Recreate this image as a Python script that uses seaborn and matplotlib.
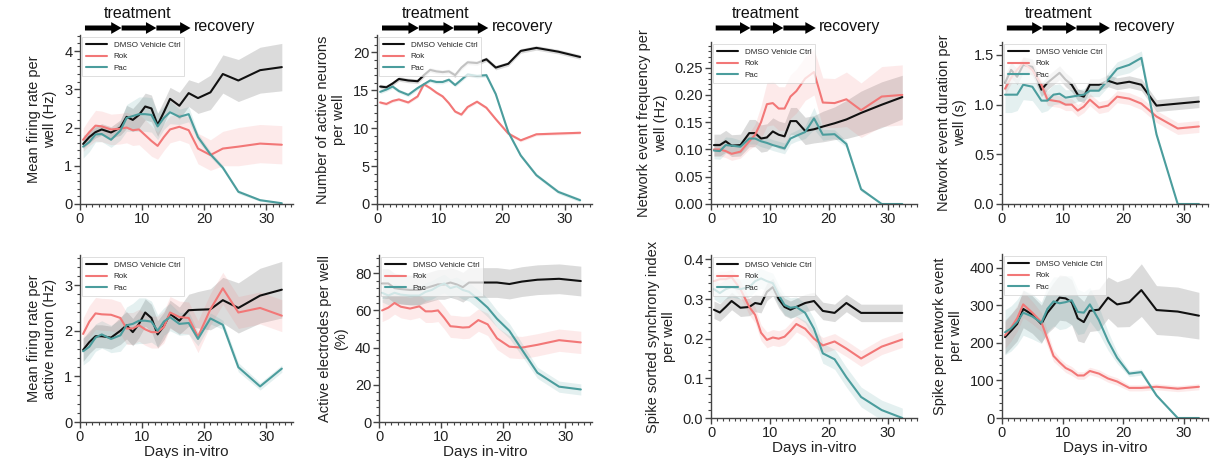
import numpy as np
import pandas as pd
import matplotlib
matplotlib.use("Agg")
import matplotlib.pyplot as plt
from matplotlib.ticker import AutoMinorLocator, MultipleLocator, FormatStrFormatter
from matplotlib.lines import Line2D
import matplotlib.transforms as mtransforms
import seaborn as sns

# ---------------- data ----------------
days = [0.5, 1.5, 2.5, 3.5, 5, 6.5, 7.5, 8.5, 9.5, 10.5, 11.5, 12.5, 13.5, 14.5,
        16, 17.5, 19, 21, 23, 25.5, 29, 32.5]
groups = ["DMSO Vehicle Ctrl", "Rok", "Pac"]
colors = ["#111111", "#f27777", "#4b9d9d"]
treatment_days = [0.8, 6.7, 12.3, 17.8]

# Mean firing rate per well (Hz)
mfr_ctrl = [1.57, 1.75, 1.88, 1.95, 1.87, 2.0, 2.28, 2.2, 2.33, 2.55, 2.5, 2.07, 2.4, 2.75, 2.57, 2.9, 2.77, 2.92, 3.4, 3.23, 3.5, 3.58]
mfr_ctrl_err = [0.12, 0.15, 0.15, 0.15, 0.15, 0.2, 0.3, 0.3, 0.35, 0.35, 0.35, 0.3, 0.3, 0.3, 0.35, 0.35, 0.4, 0.45, 0.5, 0.55, 0.6, 0.62]
mfr_rok = [1.68, 1.88, 2.05, 2.03, 1.95, 1.97, 2.0, 1.93, 1.95, 1.8, 1.65, 1.52, 1.75, 1.95, 2.02, 1.93, 1.45, 1.28, 1.45, 1.5, 1.58, 1.55]
mfr_rok_err = [0.3, 0.35, 0.4, 0.4, 0.4, 0.4, 0.4, 0.4, 0.4, 0.4, 0.4, 0.35, 0.35, 0.35, 0.35, 0.35, 0.4, 0.4, 0.45, 0.5, 0.5, 0.5]
mfr_pac = [1.5, 1.62, 1.82, 1.83, 1.68, 1.92, 2.25, 2.3, 2.35, 2.35, 2.33, 2.03, 2.25, 2.4, 2.28, 2.35, 1.75, 1.3, 0.95, 0.32, 0.1, 0.02]
mfr_pac_err = [0.3, 0.25, 0.2, 0.2, 0.2, 0.25, 0.35, 0.4, 0.45, 0.45, 0.45, 0.35, 0.3, 0.3, 0.2, 0.2, 0.1, 0.08, 0.06, 0.05, 0.03, 0.02]

# Number of active neurons per well
neu_ctrl = [15.5, 15.4, 15.9, 16.5, 16.3, 16.2, 17.0, 17.7, 17.5, 17.4, 17.5, 17.0, 18.0, 18.7, 18.6, 19.1, 18.0, 18.5, 20.2, 20.6, 20.1, 19.4]
neu_ctrl_err = [0.3] * 22
neu_rok = [13.4, 13.2, 13.6, 13.8, 13.4, 14.2, 15.8, 15.3, 14.7, 14.2, 13.3, 12.2, 11.8, 12.8, 13.5, 12.7, 11.2, 9.3, 8.4, 9.2, 9.3, 9.4]
neu_rok_err = [0.2] * 22
neu_pac = [14.8, 15.1, 15.5, 14.9, 14.4, 15.3, 15.8, 16.3, 16.1, 16.1, 16.4, 15.7, 16.4, 17.1, 16.9, 17.0, 14.5, 9.5, 6.4, 3.8, 1.6, 0.5]
neu_pac_err = [0.25] * 22

# Network event frequency per well (Hz)
nef_ctrl = [0.108, 0.108, 0.115, 0.107, 0.108, 0.13, 0.13, 0.12, 0.122, 0.133, 0.127, 0.124, 0.152, 0.152, 0.134, 0.137, 0.142, 0.148, 0.155, 0.167, 0.182, 0.196]
nef_ctrl_err = [0.02, 0.02, 0.02, 0.02, 0.02, 0.025, 0.025, 0.025, 0.025, 0.025, 0.025, 0.025, 0.025, 0.025, 0.025, 0.025, 0.028, 0.03, 0.035, 0.04, 0.042, 0.04]
nef_rok = [0.100, 0.100, 0.097, 0.092, 0.096, 0.115, 0.127, 0.15, 0.183, 0.185, 0.175, 0.175, 0.197, 0.207, 0.23, 0.242, 0.186, 0.185, 0.192, 0.172, 0.197, 0.2]
nef_rok_err = [0.012, 0.012, 0.012, 0.012, 0.012, 0.015, 0.02, 0.03, 0.04, 0.04, 0.04, 0.04, 0.04, 0.04, 0.04, 0.042, 0.045, 0.045, 0.05, 0.05, 0.055, 0.055]
nef_pac = [0.098, 0.097, 0.108, 0.107, 0.105, 0.12, 0.12, 0.115, 0.112, 0.108, 0.105, 0.102, 0.12, 0.125, 0.132, 0.157, 0.127, 0.128, 0.11, 0.027, 0.0, 0.0]
nef_pac_err = [0.015, 0.015, 0.015, 0.015, 0.012, 0.01, 0.01, 0.01, 0.01, 0.01, 0.01, 0.01, 0.01, 0.01, 0.012, 0.02, 0.01, 0.008, 0.006, 0.004, 0.0, 0.0]

# Network event duration per well (s)
ned_ctrl = [1.22, 1.35, 1.28, 1.4, 1.38, 1.15, 1.22, 1.27, 1.32, 1.25, 1.2, 1.1, 1.08, 1.2, 1.2, 1.24, 1.21, 1.23, 1.2, 0.99, 1.01, 1.03]
ned_ctrl_err = [0.08, 0.08, 0.08, 0.08, 0.08, 0.07, 0.07, 0.07, 0.07, 0.07, 0.07, 0.06, 0.06, 0.06, 0.06, 0.06, 0.06, 0.06, 0.06, 0.06, 0.06, 0.06]
ned_rok = [1.16, 1.27, 1.35, 1.42, 1.35, 1.2, 1.05, 1.04, 1.03, 1.0, 1.0, 0.94, 0.98, 1.05, 0.97, 0.99, 1.08, 1.06, 1.01, 0.88, 0.76, 0.78]
ned_rok_err = [0.06] * 22
ned_pac = [1.1, 1.1, 1.1, 1.2, 1.18, 1.04, 1.04, 1.1, 1.11, 1.07, 1.08, 1.09, 1.1, 1.14, 1.14, 1.25, 1.36, 1.4, 1.47, 0.7, 0.0, 0.0]
ned_pac_err = [0.18, 0.18, 0.16, 0.15, 0.14, 0.12, 0.1, 0.1, 0.1, 0.08, 0.07, 0.06, 0.06, 0.06, 0.06, 0.07, 0.07, 0.08, 0.07, 0.03, 0.0, 0.0]

# Mean firing rate per active neuron (Hz)
mfn_ctrl = [1.58, 1.75, 1.88, 1.88, 1.85, 2.0, 2.12, 1.97, 2.15, 2.4, 2.28, 1.92, 2.1, 2.37, 2.22, 2.45, 2.46, 2.47, 2.67, 2.5, 2.77, 2.9]
mfn_ctrl_err = [0.25, 0.25, 0.25, 0.25, 0.25, 0.3, 0.3, 0.3, 0.3, 0.3, 0.3, 0.3, 0.3, 0.3, 0.3, 0.35, 0.4, 0.45, 0.5, 0.55, 0.6, 0.62]
mfn_rok = [1.93, 2.2, 2.38, 2.36, 2.35, 2.28, 2.05, 2.05, 2.12, 2.03, 1.97, 1.97, 2.08, 2.4, 2.3, 2.28, 1.87, 2.47, 2.93, 2.4, 2.5, 2.33]
mfn_rok_err = [0.35] * 22
mfn_pac = [1.55, 1.65, 1.85, 1.92, 1.82, 1.9, 2.12, 2.15, 2.22, 2.22, 2.2, 2.0, 2.2, 2.3, 2.15, 2.17, 1.82, 2.27, 2.13, 1.2, 0.78, 1.17]
mfn_pac_err = [0.3, 0.3, 0.3, 0.3, 0.3, 0.35, 0.4, 0.45, 0.5, 0.5, 0.45, 0.35, 0.3, 0.3, 0.25, 0.25, 0.15, 0.12, 0.1, 0.1, 0.08, 0.08]

# Active electrodes per well (%)
ae_ctrl = [74.5, 74.5, 72, 71.5, 71, 71, 72, 73, 74, 74, 75, 74, 72.5, 75, 75, 75, 75, 74.2, 75.5, 76.5, 77, 75.8]
ae_ctrl_err = [8] * 22
ae_rok = [60, 61.5, 64, 62, 61, 62.2, 59.5, 59.5, 60, 56, 51.5, 51.2, 50.8, 51, 54.8, 52.5, 45, 40.5, 40, 41.5, 44, 42.8]
ae_rok_err = [6] * 22
ae_pac = [69.5, 68, 69.5, 68.5, 68, 68, 70, 71, 73, 74.5, 72, 73, 71, 70, 66, 61.5, 55.5, 49, 39, 26.5, 19, 17.5]
ae_pac_err = [5, 5, 5, 5, 5, 5, 5, 5, 5, 5, 5, 5, 5, 5, 5, 5, 4.5, 4, 3.5, 3, 3, 3]

# Spike sorted synchrony index per well
ssi_ctrl = [0.273, 0.266, 0.28, 0.295, 0.278, 0.28, 0.29, 0.287, 0.318, 0.33, 0.3, 0.28, 0.273, 0.28, 0.29, 0.295, 0.27, 0.265, 0.29, 0.265, 0.265, 0.265]
ssi_ctrl_err = [0.022] * 22
ssi_rok = [0.345, 0.35, 0.35, 0.355, 0.325, 0.28, 0.26, 0.215, 0.197, 0.203, 0.2, 0.205, 0.22, 0.237, 0.225, 0.2, 0.183, 0.193, 0.175, 0.15, 0.18, 0.198]
ssi_rok_err = [0.02] * 22
ssi_pac = [0.325, 0.315, 0.325, 0.33, 0.325, 0.33, 0.345, 0.352, 0.345, 0.34, 0.31, 0.285, 0.278, 0.28, 0.265, 0.225, 0.163, 0.148, 0.103, 0.053, 0.02, 0.0]
ssi_pac_err = [0.025] * 22

# Spike per network event per well
spe_ctrl = [215, 232, 250, 290, 275, 250, 280, 300, 320, 318, 308, 265, 255, 285, 288, 320, 302, 308, 340, 287, 283, 272]
spe_ctrl_err = [45, 45, 45, 50, 50, 50, 55, 60, 60, 60, 60, 60, 55, 55, 55, 55, 60, 65, 70, 65, 65, 62]
spe_rok = [220, 240, 265, 302, 280, 255, 210, 165, 148, 133, 125, 113, 113, 125, 118, 105, 97, 80, 80, 83, 78, 83]
spe_rok_err = [35, 35, 35, 35, 30, 25, 20, 15, 12, 12, 12, 10, 10, 10, 10, 10, 10, 8, 8, 8, 8, 8]
spe_pac = [228, 238, 255, 280, 270, 253, 290, 310, 305, 308, 313, 282, 280, 302, 260, 205, 160, 118, 122, 60, 0, 0]
spe_pac_err = [60, 60, 60, 60, 60, 55, 60, 65, 70, 70, 65, 60, 55, 45, 35, 25, 15, 8, 8, 5, 0, 0]

ylabels = [
    "Mean firing rate per\nwell (Hz)",
    "Number of active neurons\nper well",
    "Network event frequency per\nwell (Hz)",
    "Network event duration per\nwell (s)",
    "Mean firing rate per\nactive neuron (Hz)",
    "Active electrodes per well\n(%)",
    "Spike sorted synchrony index\nper well",
    "Spike per network event\nper well",
]
xlabel = "Days in-vitro"

# ---------------- layout ----------------
W, H = 1221, 458
def rect(l, r, t, b):
    return [l / W, 1 - b / H, (r - l) / W, (b - t) / H]

panels = [
    dict(rect=rect(80, 293, 35, 204), ylim=(0, 4.42), major=1, xmax=34.3,
         series=[(mfr_ctrl, mfr_ctrl_err), (mfr_rok, mfr_rok_err), (mfr_pac, mfr_pac_err)], fmt=None),
    dict(rect=rect(377, 592, 35, 204), ylim=(0, 22.3), major=5, xmax=34.4,
         series=[(neu_ctrl, neu_ctrl_err), (neu_rok, neu_rok_err), (neu_pac, neu_pac_err)], fmt=None),
    dict(rect=rect(711, 917, 42, 204), ylim=(0, 0.297), major=0.05, xmax=35.0,
         series=[(nef_ctrl, nef_ctrl_err), (nef_rok, nef_rok_err), (nef_pac, nef_pac_err)], fmt="%.2f"),
    dict(rect=rect(1002, 1208, 42, 204), ylim=(0, 1.63), major=0.5, xmax=34.0,
         series=[(ned_ctrl, ned_ctrl_err), (ned_rok, ned_rok_err), (ned_pac, ned_pac_err)], fmt="%.1f"),
    dict(rect=rect(80, 293, 255, 422), ylim=(0, 3.66), major=1, xmax=34.3,
         series=[(mfn_ctrl, mfn_ctrl_err), (mfn_rok, mfn_rok_err), (mfn_pac, mfn_pac_err)], fmt=None),
    dict(rect=rect(379, 592, 255, 422), ylim=(0, 89.8), major=20, xmax=34.3,
         series=[(ae_ctrl, ae_ctrl_err), (ae_rok, ae_rok_err), (ae_pac, ae_pac_err)], fmt=None),
    dict(rect=rect(711, 917, 255, 418), ylim=(0, 0.411), major=0.1, xmax=35.0,
         series=[(ssi_ctrl, ssi_ctrl_err), (ssi_rok, ssi_rok_err), (ssi_pac, ssi_pac_err)], fmt="%.1f"),
    dict(rect=rect(1002, 1208, 254, 418), ylim=(0, 436), major=100, xmax=34.0,
         series=[(spe_ctrl, spe_ctrl_err), (spe_rok, spe_rok_err), (spe_pac, spe_pac_err)], fmt=None),
]

sns.set_theme(style="ticks")
plt.rcParams["font.family"] = ["Liberation Sans", "DejaVu Sans"]
plt.rcParams["axes.edgecolor"] = "#444444"
plt.rcParams["xtick.color"] = "#444444"
plt.rcParams["ytick.color"] = "#444444"
plt.rcParams["xtick.labelcolor"] = "#222222"
plt.rcParams["ytick.labelcolor"] = "#222222"

fig = plt.figure(figsize=(W / 100, H / 100), dpi=100)

def long_frame(series):
    rows = []
    for g, (m, e) in zip(groups, series):
        for d, mv, ev in zip(days, m, e):
            for k in (-1, 0, 1):
                rows.append({"day": d, "value": mv + k * ev, "group": g})
    return pd.DataFrame(rows)

for i, p in enumerate(panels):
    ax = fig.add_axes(p["rect"])
    df = long_frame(p["series"])
    sns.lineplot(data=df, x="day", y="value", hue="group", hue_order=groups,
                 palette=colors, estimator="median", errorbar=("pi", 100),
                 err_kws={"alpha": 0.15, "linewidth": 0}, linewidth=1.5,
                 legend=False, ax=ax)
    ax.set_xlim(0, p["xmax"])
    ax.set_ylim(*p["ylim"])
    ax.xaxis.set_major_locator(MultipleLocator(10))
    ax.xaxis.set_minor_locator(MultipleLocator(1))
    ax.yaxis.set_major_locator(MultipleLocator(p["major"]))
    ax.yaxis.set_minor_locator(AutoMinorLocator(5))
    if p["fmt"]:
        ax.yaxis.set_major_formatter(FormatStrFormatter(p["fmt"]))
    sns.despine(ax=ax)
    for s in ("left", "bottom"):
        ax.spines[s].set_linewidth(1.0)
    ax.tick_params(axis="both", which="major", length=4, width=1.0, labelsize=10.5, pad=1.5)
    ax.tick_params(axis="both", which="minor", length=2.5, width=0.8)
    ax.set_ylabel(ylabels[i], fontsize=10.5, labelpad=5, color="#222222")
    if i >= 4:
        ax.set_xlabel(xlabel, fontsize=11, labelpad=1, color="#222222")
    else:
        ax.set_xlabel("")
    handles = [Line2D([0], [0], color=c, lw=1.5) for c in colors]
    leg = ax.legend(handles, groups, loc="upper left", fontsize=5.8, frameon=True,
                    handlelength=2.6, borderaxespad=0.3, labelspacing=0.45,
                    borderpad=0.5, fancybox=False, framealpha=0.75)
    leg.get_frame().set_edgecolor("#cccccc")
    leg.get_frame().set_linewidth(0.6)

    if i < 4:
        trans = mtransforms.blended_transform_factory(ax.transData, fig.transFigure)
        y_arrow = 1 - 28 / H
        for a, b in zip(treatment_days[:-1], treatment_days[1:]):
            ax.annotate("", xy=(b, y_arrow), xytext=(a, y_arrow), xycoords=trans,
                        textcoords=trans, annotation_clip=False,
                        arrowprops=dict(arrowstyle="simple,head_length=0.75,head_width=0.85,tail_width=0.36",
                                        lw=0, color="black", mutation_scale=10,
                                        shrinkA=0, shrinkB=0))
        ax.text((treatment_days[0] + treatment_days[-1]) / 2, 1 - 14 / H, "treatment",
                transform=trans, ha="center", va="center", fontsize=11.5, color="#111111")
        ax.text(treatment_days[-1] + 0.6, 1 - 27 / H, "recovery", transform=trans,
                ha="left", va="center", fontsize=11.5, color="#111111")

fig.savefig("out.png", dpi=100)
